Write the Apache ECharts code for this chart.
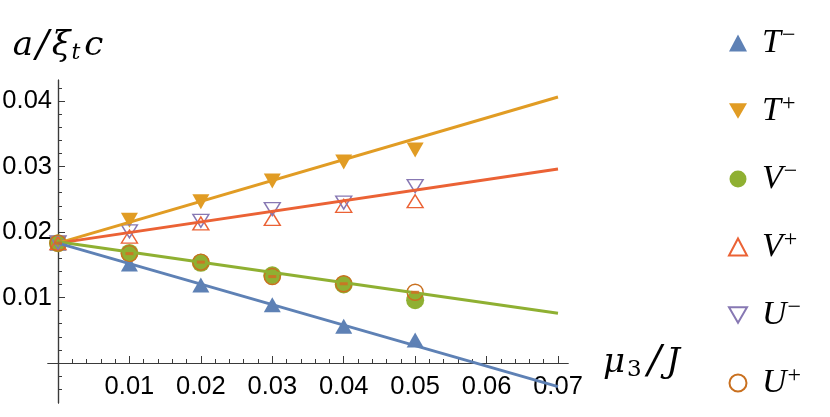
<!DOCTYPE html>
<html><head><meta charset="utf-8">
<script src="https://cdn.jsdelivr.net/npm/echarts@6/dist/echarts.min.js"></script>
<style>html,body{margin:0;padding:0;background:#fff}#c{width:830px;height:417px}</style>
</head><body><div id="c"></div>
<script>
// ---- data ----
const mu3 = [0, 0.01, 0.02, 0.03, 0.04, 0.05];
const Tminus = [0.0183, 0.0151, 0.0119, 0.0089, 0.0056, 0.0035];
const Tplus  = [0.0183, 0.0218, 0.0246, 0.0278, 0.0307, 0.0325];
const Vminus = [0.0183, 0.0168, 0.0153, 0.0134, 0.0120, 0.0096];
const Vplus  = [0.0183, 0.0193, 0.0213, 0.0220, 0.0240, 0.0247];
const Uminus = [0.0184, 0.0201, 0.0217, 0.0235, 0.0245, 0.0270];
const Uplus  = [0.0183, 0.0167, 0.0154, 0.0132, 0.0121, 0.0108];
const fitX = [0, 0.07];
const fitTminus = [0.0183, -0.0036];
const fitTplus  = [0.0183, 0.0406];
const fitVminus = [0.0185, 0.0076];
const fitVUplus = [0.0183, 0.0296];
const xMajorTicks = [0.01, 0.02, 0.03, 0.04, 0.05, 0.06, 0.07];
const yMajorTicks = [0.01, 0.02, 0.03, 0.04];
const xMinorTicks = [];
for (let k = 1; k <= 35; k++) xMinorTicks.push(+(k * 0.002).toFixed(3));
const yMinorTicks = [];
for (let k = -2; k <= 21; k++) if (k !== 0) yMinorTicks.push(+(k * 0.002).toFixed(3));
const names = ['T\u2212', 'T+', 'V\u2212', 'V+', 'U\u2212', 'U+'];

// ---- style ----
const C = {blue:'#5E81B5', orange:'#E19C24', green:'#8FB032', red:'#EB6235', purple:'#8778B3', dorange:'#C9701F'};
const axisColor = '#3a3a3a';
const serif = '"Liberation Serif", "DejaVu Serif", serif';
const dserif = '"DejaVu Serif", serif';
const sans = '"Liberation Sans", Arial, sans-serif';
const XMIN = -0.0014, XMAX = 0.0714, YMIN = -0.0061, YMAX = 0.0432;
const GRID = {left: 48, right: 262, top: 80, bottom: 14};
const X0OFF = -40;   // x axis drawn at y = 0
const Y0OFF = -10;   // y axis drawn at x = 0
const DOWN = 'path://M0,0L20,0L10,17.32Z';

const pts = arr => mu3.map((x, i) => [x, arr[i]]);
const fit = arr => fitX.map((x, i) => [x, arr[i]]);

function xAxisDef(major) {
  return {
    type: 'value', min: XMIN, max: XMAX, position: 'bottom', offset: X0OFF,
    axisLine: {show: true, onZero: false, lineStyle: {color: axisColor, width: 1.2}},
    axisTick: {show: true, inside: true, length: major ? 7 : 4, customValues: major ? xMajorTicks : xMinorTicks,
               lineStyle: {color: axisColor, width: 1}},
    axisLabel: {show: major, customValues: xMajorTicks, margin: 11, color: '#000', fontFamily: sans, fontSize: 25.5,
                formatter: v => v.toFixed(2)},
    splitLine: {show: false},
    name: major ? '{i|\u03bc}{sub|3}{sl|/}{i|J}' : '',
    nameLocation: 'end', nameGap: 34,
    nameTextStyle: {
      verticalAlign: 'middle', align: 'left',
      rich: {
        i: {fontFamily: dserif, fontStyle: 'italic', fontSize: 34, color: '#000', padding: [0, 1, 0, 1]},
        sl: {fontFamily: dserif, fontStyle: 'italic', fontSize: 40, color: '#000', padding: [0, 4, 0, 6]},
        sub: {fontFamily: dserif, fontSize: 23, color: '#000', padding: [14, 0, 0, 1]}
      }
    }
  };
}
function yAxisDef(major) {
  return {
    type: 'value', min: YMIN, max: YMAX, position: 'left', offset: Y0OFF,
    axisLine: {show: true, onZero: false, lineStyle: {color: axisColor, width: 1.2}},
    axisTick: {show: true, inside: true, length: major ? 7 : 4, customValues: major ? yMajorTicks : yMinorTicks,
               lineStyle: {color: axisColor, width: 1}},
    axisLabel: {show: major, customValues: yMajorTicks, margin: 6, color: '#000', fontFamily: sans, fontSize: 25.5,
                formatter: v => v.toFixed(2)},
    splitLine: {show: false},
    name: major ? '{i|a}{sl|/}{i|\u03be}{sub|t}{i|c}' : '',
    nameLocation: 'end', nameGap: 34,
    nameTextStyle: {
      align: 'center', verticalAlign: 'middle',
      rich: {
        i: {fontFamily: dserif, fontStyle: 'italic', fontSize: 34, color: '#000', padding: [0, 1, 0, 1]},
        sl: {fontFamily: dserif, fontStyle: 'italic', fontSize: 38, color: '#000', padding: [0, 2, 0, 2]},
        sub: {fontFamily: dserif, fontStyle: 'italic', fontSize: 22, color: '#000', padding: [14, 3, 0, 0]}
      }
    }
  };
}

const filled = (name, data, color, symbol, size) => ({
  type: 'scatter', name, data: pts(data), symbol, symbolSize: size,
  itemStyle: {color, opacity: 1}, z: 3
});
const hollow = (name, data, color, symbol, size) => ({
  type: 'scatter', name, data: pts(data), symbol, symbolSize: size,
  itemStyle: {color: 'rgba(255,255,255,0)', borderColor: color, borderWidth: 1.4, opacity: 1}, z: 4
});
const fitLine = (data, color) => ({
  type: 'line', data: fit(data), showSymbol: false, symbol: 'none', silent: true,
  lineStyle: {color, width: 3}, z: 5, legendHoverLink: false
});

const chart = echarts.init(document.getElementById('c'), null, {renderer: 'canvas'});
chart.setOption({
  animation: false,
  backgroundColor: '#fff',
  grid: Object.assign({outerBoundsMode: 'none', containLabel: false}, GRID),
  xAxis: [xAxisDef(true), xAxisDef(false)],
  yAxis: [yAxisDef(true), yAxisDef(false)],
  legend: {
    data: names, orient: 'vertical', left: 723, top: 19,
    itemWidth: 18, itemHeight: 17, itemGap: 32,
    formatter: n => '{i|' + n[0] + '}{s|' + n.slice(1) + '}',
    textStyle: {
      padding: [0, 0, 0, 10],
      rich: {
        i: {fontFamily: serif, fontStyle: 'italic', fontSize: 34, color: '#000', lineHeight: 36},
        s: {fontFamily: serif, fontSize: 24, color: '#000', padding: [0, 0, 14, 1]}
      }
    }
  },
  series: [
    filled(names[0], Tminus, C.blue, 'triangle', [17, 15]),
    filled(names[1], Tplus, C.orange, DOWN, [17, 15]),
    filled(names[2], Vminus, C.green, 'circle', 18),
    hollow(names[3], Vplus, C.red, 'triangle', [16, 13]),
    hollow(names[4], Uminus, C.purple, DOWN, [16, 13]),
    hollow(names[5], Uplus, C.dorange, 'circle', 16),
    {type: 'scatter', name: 'err', data: pts(Uplus), symbol: 'rect', symbolSize: [8, 3],
     itemStyle: {color: '#D56A22'}, z: 6},
    fitLine(fitTplus, C.orange),
    fitLine(fitVUplus, C.red),
    fitLine(fitVminus, C.green),
    fitLine(fitTminus, C.blue)
  ]
});
</script>
</body></html>
